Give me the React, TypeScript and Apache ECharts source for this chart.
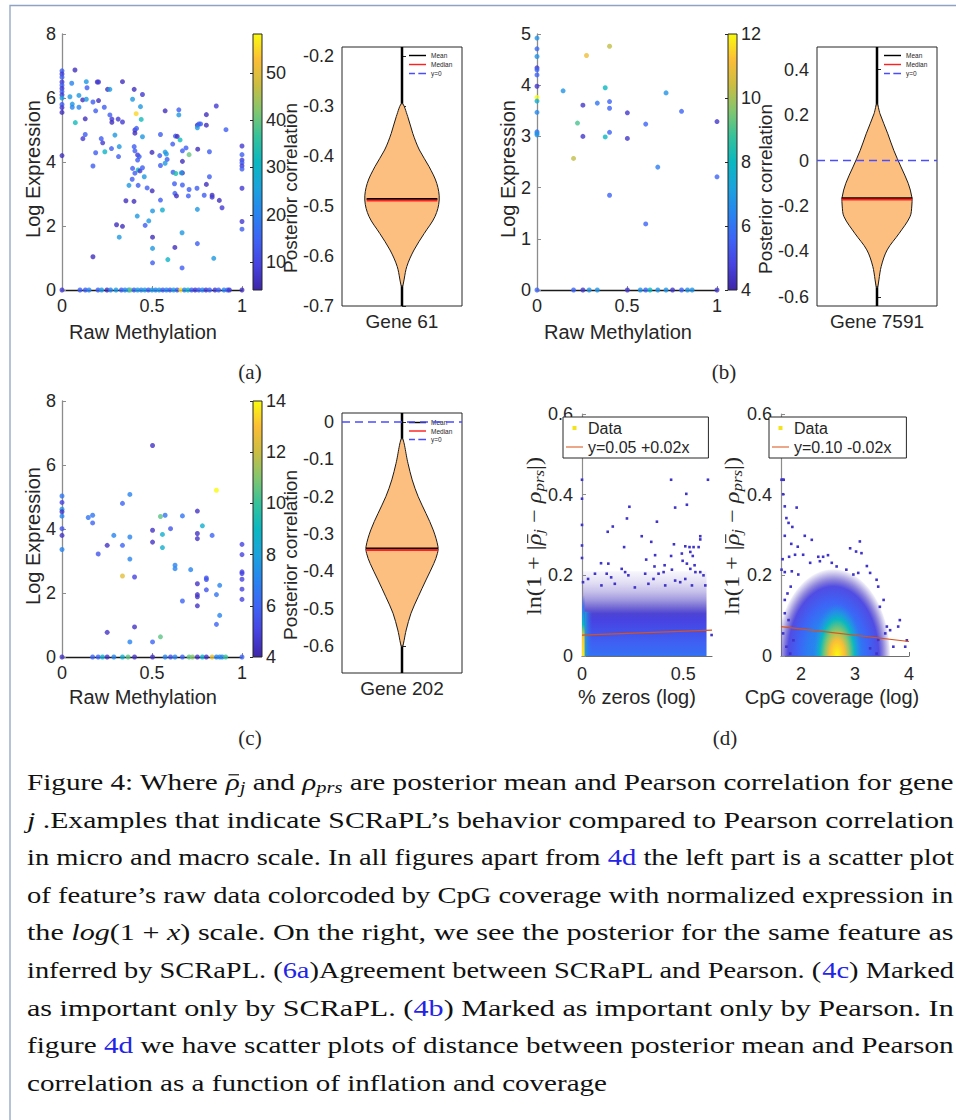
import React, { useEffect, useRef } from 'react';
import * as echarts from 'echarts';

const PARULA = ['#3e26a8', '#4743e2', '#3d64f6', '#2785f0', '#1aa3dc', '#0ab8c0', '#36c29a', '#83c66e', '#cbbd42', '#fbbe36', '#f9fb0e'];
const SANS = 'Liberation Sans';
const SERIF = 'Liberation Serif';
const INK = '#262626';

// ---------- Panel (a): Gene 61 ----------
const scatterA: number[][] = [
  [0, 6.85, 14], [0, 6.75, 8], [0, 6.65, 14], [0, 6.5, 8], [0, 6.4, 14], [0, 6.3, 8], [0, 6.2, 14], [0, 6.1, 8], [0, 6.0, 24], [0, 5.8, 14], [0, 5.7, 8], [0, 5.55, 6], [0, 4.2, 6],
  [0.072, 6.875, 6], [0.054, 6.46, 20], [0.044, 6.04, 24], [0.057, 5.81, 24], [0.057, 5.71, 20], [0.074, 5.23, 32], [0.094, 6.08, 24], [0.094, 5.71, 20], [0.115, 5.94, 6], [0.135, 6.51, 24], [0.139, 6.32, 14], [0.135, 5.96, 24], [0.129, 5.35, 6], [0.116, 4.73, 8], [0.129, 4.86, 14], [0.172, 5.875, 14], [0.187, 5.6, 14], [0.196, 6.5, 6], [0.203, 6.5, 8], [0.203, 5.92, 6], [0.235, 5.71, 14], [0.218, 4.73, 14], [0.226, 4.6, 8], [0.187, 4.29, 14], [0.172, 3.875, 14], [0.238, 4.32, 30], [0.253, 6.27, 6], [0.266, 6.27, 24], [0.266, 5.47, 14], [0.277, 5.34, 8], [0.277, 5.24, 6], [0.312, 5.34, 8], [0.336, 6.51, 6], [0.336, 5.25, 8], [0.294, 4.84, 24], [0.275, 4.42, 14], [0.318, 4.48, 24], [0.314, 4.17, 14], [0.392, 5.96, 24], [0.401, 6.27, 6], [0.447, 6.11, 8], [0.412, 5.51, 55], [0.44, 5.33, 32], [0.436, 5.73, 24], [0.405, 5.0, 8], [0.414, 5.05, 14], [0.405, 4.9, 6], [0.447, 4.79, 24], [0.401, 4.48, 14], [0.405, 4.35, 14], [0.42, 4.22, 8], [0.429, 4.17, 14], [0.42, 4.06, 14], [0.392, 3.8, 14], [0.423, 3.75, 32], [0.433, 3.72, 8], [0.405, 3.65, 14], [0.447, 3.82, 14], [0.457, 3.54, 24], [0.372, 3.27, 24], [0.39, 3.46, 14], [0.423, 3.27, 14], [0.473, 3.19, 14], [0.501, 3.1, 6], [0.355, 2.79, 6], [0.4, 2.77, 6], [0.303, 2.04, 6], [0.336, 1.99, 6], [0.318, 1.65, 24], [0.418, 2.31, 24], [0.462, 2.02, 14], [0.482, 2.16, 24], [0.503, 2.47, 24], [0.503, 1.65, 6], [0.503, 1.3, 24], [0.503, 0.85, 14], [0.172, 1.04, 6], [0.5, 4.3, 6], [0.543, 4.2, 14], [0.547, 3.89, 14], [0.547, 4.86, 14], [0.573, 5.6, 6], [0.573, 4.31, 24], [0.58, 4.25, 24], [0.584, 4.08, 14], [0.573, 3.96, 24], [0.547, 2.81, 14], [0.558, 2.5, 28], [0.615, 4.56, 14], [0.617, 3.68, 14], [0.632, 3.64, 34], [0.625, 3.32, 14], [0.627, 3.02, 14], [0.636, 2.94, 6], [0.63, 4.81, 14], [0.64, 4.8, 6], [0.649, 5.63, 14], [0.649, 5.47, 24], [0.656, 4.69, 32], [0.669, 4.35, 14], [0.669, 4.02, 6], [0.669, 3.66, 6], [0.669, 3.28, 14], [0.663, 3.66, 24], [0.689, 4.44, 14], [0.706, 4.23, 40], [0.706, 3.14, 14], [0.702, 2.94, 14], [0.754, 4.4, 6], [0.752, 5.15, 6], [0.761, 5.19, 14], [0.77, 5.19, 14], [0.752, 5.07, 24], [0.802, 5.48, 6], [0.802, 5.15, 6], [0.857, 5.75, 8], [0.911, 5.01, 14], [0.819, 4.32, 14], [0.819, 3.54, 14], [0.802, 3.3, 6], [0.75, 3.18, 14], [0.79, 2.96, 14], [0.834, 2.96, 6], [0.834, 2.9, 8], [0.874, 2.8, 6], [0.889, 2.57, 8], [0.752, 2.52, 24], [0.627, 1.33, 6], [0.667, 1.79, 24], [0.667, 0.69, 14], [0.588, 0.95, 30], [0.752, 1.45, 14], [0.843, 0.99, 24],
  [1, 4.5, 8], [1, 4.23, 14], [1, 4.06, 8], [1, 3.98, 14], [1, 3.88, 8], [1, 3.78, 14], [1, 3.18, 8], [1, 2.14, 8], [1, 1.9, 14],
  [0, 0, 8], [0.1, 0, 14], [0.13, 0, 14], [0.15, 0, 20], [0.2, 0, 14], [0.22, 0, 24], [0.25, 0, 6], [0.27, 0, 20], [0.3, 0, 24], [0.33, 0, 14], [0.35, 0, 20], [0.37, 0, 24], [0.38, 0, 40], [0.4, 0, 14], [0.42, 0, 24], [0.44, 0, 20], [0.46, 0, 24], [0.48, 0, 14], [0.5, 0, 24], [0.52, 0, 20], [0.54, 0, 24], [0.56, 0, 14], [0.58, 0, 20], [0.6, 0, 14], [0.62, 0, 24], [0.64, 0, 14], [0.66, 0, 55], [0.68, 0, 20], [0.7, 0, 30], [0.72, 0, 14], [0.74, 0, 8], [0.76, 0, 14], [0.78, 0, 20], [0.8, 0, 8], [0.82, 0, 14], [0.85, 0, 8], [0.87, 0, 14], [0.9, 0, 20], [0.92, 0, 14], [0.93, 0, 8], [1, 0, 6],
];
const cbarARange = [4.1, 58.2];
const cbarATicks = [10, 20, 30, 40, 50];
const violinAY = [-0.295, -0.321, -0.355, -0.388, -0.421, -0.455, -0.488, -0.521, -0.555, -0.588, -0.621, -0.661];
const violinAW = [0, 0.095, 0.18, 0.29, 0.45, 0.58, 0.62, 0.55, 0.37, 0.2, 0.08, 0];
const violinARange = [-0.7, -0.182];
const violinATicks = [-0.7, -0.6, -0.5, -0.4, -0.3, -0.2];
const meanLineA = [[-0.59, -0.486], [0.59, -0.486]];
const medianLineA = [[-0.59, -0.489], [0.59, -0.489]];
const geneA = 'Gene 61';

// ---------- Panel (b): Gene 7591 ----------
const scatterB: number[][] = [
  [0, 4.92, 6.8], [0, 4.71, 5.8], [0, 4.56, 6.8], [0, 4.34, 4.5], [0, 4.3, 5.6], [0, 4.2, 5.6], [0, 3.98, 4.5], [0, 3.76, 12], [0, 3.69, 7.5], [0, 3.47, 6.5], [0, 3.09, 5.8], [0, 3.06, 6.8], [0, 3.03, 6.8], [0, 0, 5.6],
  [0.145, 3.89, 6.8], [0.275, 4.58, 11], [0.403, 4.76, 10.3], [0.225, 3.26, 9], [0.203, 2.57, 10.3], [0.255, 3.61, 4.5], [0.255, 3.0, 4.5], [0.335, 3.65, 6], [0.379, 3.95, 8], [0.379, 2.99, 8], [0.403, 3.68, 5.6], [0.403, 3.55, 5.6], [0.403, 3.08, 5.6], [0.403, 1.85, 5.6], [0.502, 3.46, 4.5], [0.502, 2.96, 4.5], [0.604, 3.24, 5.6], [0.604, 1.29, 5.6], [0.671, 2.4, 6.2], [0.717, 3.85, 6.8], [0.803, 3.49, 5.6], [1, 3.29, 4.5], [1, 2.21, 5.6],
  [0.203, 0, 5.6], [0.255, 0, 4.5], [0.29, 0, 6.8], [0.335, 0, 6.8], [0.502, 0, 4.5], [0.574, 0, 6.8], [0.604, 0, 5.6], [0.628, 0, 8], [0.671, 0, 6.8], [0.717, 0, 6.8], [0.753, 0, 4.5], [0.803, 0, 5.6], [0.836, 0, 6.8], [0.862, 0, 6.8], [1, 0, 4.5],
];
const cbarBRange = [4, 12];
const cbarBTicks = [4, 6, 8, 10, 12];
const violinBY = [0.25, 0.206, 0.118, 0.045, -0.028, -0.1, -0.16, -0.2, -0.247, -0.32, -0.393, -0.466, -0.56];
const violinBW = [0, 0.05, 0.18, 0.28, 0.4, 0.52, 0.58, 0.58, 0.55, 0.37, 0.17, 0.07, 0];
const violinBRange = [-0.64, 0.5];
const violinBTicks = [-0.6, -0.4, -0.2, 0, 0.2, 0.4];
const meanLineB = [[-0.59, -0.166], [0.59, -0.166]];
const medianLineB = [[-0.59, -0.171], [0.59, -0.171]];
const geneB = 'Gene 7591';

// ---------- Panel (c): Gene 202 ----------
const scatterC: number[][] = [
  [0, 5.03, 6.5], [0, 4.83, 5], [0, 4.62, 7.5], [0, 4.54, 4.5], [0, 4.4, 7], [0, 4.01, 5.5], [0, 3.8, 4.5], [0, 3.36, 7], [0, 0, 4.5],
  [0.146, 4.36, 6.5], [0.17, 4.43, 6.5], [0.17, 4.19, 6], [0.201, 3.22, 5.5], [0.251, 3.49, 4.5], [0.251, 0.77, 4.5], [0.288, 3.8, 7], [0.336, 4.8, 6], [0.336, 3.49, 6], [0.336, 2.53, 12.5], [0.377, 5.08, 7], [0.377, 3.75, 7], [0.377, 3.06, 7], [0.377, 0.47, 7], [0.403, 2.5, 5], [0.403, 0.94, 4.5], [0.503, 6.61, 4.5], [0.503, 3.96, 4.5], [0.503, 3.59, 4.5], [0.503, 0.47, 6], [0.547, 4.39, 10.5], [0.558, 3.83, 8.5], [0.558, 3.42, 8.5], [0.547, 0.63, 10.5], [0.573, 4.43, 6.5], [0.603, 4.01, 5.5], [0.628, 2.87, 7], [0.628, 2.76, 7], [0.669, 4.41, 6.5], [0.669, 1.75, 6], [0.715, 2.73, 7], [0.752, 4.56, 4.5], [0.752, 3.86, 4.5], [0.752, 3.7, 4.5], [0.752, 2.29, 4.5], [0.752, 1.95, 4.5], [0.752, 1.88, 4.5], [0.752, 1.6, 4.5], [0.78, 4.1, 8.5], [0.802, 2.47, 5.5], [0.802, 2.42, 5.5], [0.802, 2.1, 5.5], [0.834, 3.8, 6], [0.858, 5.21, 14], [0.858, 1.95, 6.5], [0.876, 2.24, 7], [0.876, 1.3, 7], [0.858, 1.02, 6],
  [1, 3.52, 5], [1, 3.2, 5], [1, 2.66, 5], [1, 2.61, 5], [1, 2.43, 5], [1, 2.12, 5], [1, 1.8, 5],
  [0.17, 0, 6], [0.201, 0, 6], [0.225, 0, 8.5], [0.251, 0, 4.5], [0.288, 0, 7], [0.336, 0, 8.5], [0.367, 0, 10.5], [0.403, 0, 4.5], [0.503, 0, 4.5], [0.573, 0, 7], [0.603, 0, 5.5], [0.628, 0, 7], [0.669, 0, 6], [0.706, 0, 10.5], [0.725, 0, 11], [0.752, 0, 4.5], [0.78, 0, 8.5], [0.802, 0, 4.5], [0.834, 0, 12.5], [0.858, 0, 7], [0.876, 0, 7], [0.89, 0, 7], [0.909, 0, 10], [1, 0, 6],
];
const cbarCRange = [4, 14];
const cbarCTicks = [4, 6, 8, 10, 12, 14];
const violinCY = [-0.044, -0.111, -0.155, -0.2, -0.245, -0.289, -0.334, -0.352, -0.379, -0.423, -0.468, -0.512, -0.557, -0.602];
const violinCW = [0, 0.1, 0.17, 0.27, 0.4, 0.52, 0.6, 0.59, 0.53, 0.4, 0.27, 0.15, 0.07, 0];
const violinCRange = [-0.672, 0.024];
const violinCTicks = [-0.6, -0.5, -0.4, -0.3, -0.2, -0.1, 0];
const meanLineC = [[-0.6, -0.339], [0.6, -0.339]];
const medianLineC = [[-0.6, -0.343], [0.6, -0.343]];
const geneC = 'Gene 202';

// ---------- Panel (d): density scatter plots ----------
// density regions: box [x0, x1, y0, y1]; profile rows [position 0..1 along gradient, density level 0..1, coverage 0..1]
const zerosMainBox = [0.004, 0.615, 0, 0.21];
const zerosMainProfile = [[0, 0.24, 1], [0.15, 0.19, 1], [0.3, 0.14, 1], [0.42, 0.1, 1], [0.5, 0.07, 0.95], [0.57, 0.05, 0.75], [0.66, 0.04, 0.5], [0.76, 0.03, 0.3], [0.87, 0.02, 0.15], [1, 0.02, 0.04]];
const zerosStripBox = [0, 0.013, 0, 0.15];
const zerosStripProfile = [[0, 0.97, 1], [0.3, 0.92, 1], [0.4, 0.72, 1], [0.52, 0.5, 1], [0.66, 0.36, 1], [0.8, 0.26, 0.8], [1, 0.2, 0]];
const zerosEdgeBox = [0.013, 0.05, 0, 0.11];
const zerosEdgeProfile = [[0, 0.48, 0.9], [0.35, 0.34, 0.6], [1, 0.25, 0]];
const zerosOutliers: number[][] = [
  [0.44, 0.437], [0.622, 0.437], [0.515, 0.402], [0, 0.437], [0, 0.39], [0, 0.325], [0, 0.274], [0, 0.243],
  [0.234, 0.37], [0.222, 0.341], [0.46, 0.368], [0.518, 0.375], [0.37, 0.333], [0.152, 0.321], [0.127, 0.308], [0.295, 0.297], [0.584, 0.297], [0.584, 0.289], [0.342, 0.283], [0.208, 0.27], [0.454, 0.277], [0.51, 0.272], [0.531, 0.27], [0.551, 0.27], [0.576, 0.27], [0.361, 0.25], [0.44, 0.248], [0.493, 0.254], [0.535, 0.258], [0.547, 0.248], [0.497, 0.236], [0.518, 0.229], [0.556, 0.225], [0.094, 0.23], [0.13, 0.229], [0.317, 0.239], [0.358, 0.222], [0.408, 0.225], [0.196, 0.216], [0.213, 0.208], [0.229, 0.2], [0.122, 0.204], [0.144, 0.195], [0.064, 0.204], [0.312, 0.204], [0.353, 0.191], [0.378, 0.204], [0.403, 0.208], [0.444, 0.214], [0.46, 0.187], [0.485, 0.183], [0.51, 0.191], [0.535, 0.216], [0.56, 0.208], [0.584, 0.208], [0.6, 0.2], [0.03, 0.191], [0.005, 0.183], [0.096, 0.175], [0.162, 0.179], [0.261, 0.17], [0.328, 0.179], [0.411, 0.175], [0.543, 0.175], [0.609, 0.175], [0.64, 0.052],
];
const zerosFit = [[0, 0.052], [0.642, 0.064]];
const zerosFitName = 'y=0.05 +0.02x';
// elliptical density blobs: [cx, cy, rx, ry]; radial profile rows [radius 0..1, density level, coverage]
const cpgOuterBlob = [2.6, 0, 1.05, 0.215];
const cpgOuterProfile = [[0, 0.36, 1], [0.45, 0.28, 1], [0.62, 0.2, 1], [0.8, 0.1, 0.95], [0.88, 0.05, 0.6], [1, 0.02, 0.05]];
const cpgInnerBlob = [2.67, 0, 0.46, 0.13];
const cpgInnerProfile = [[0, 1, 1], [0.3, 0.9, 1], [0.5, 0.7, 1], [0.7, 0.5, 1], [0.85, 0.38, 0.6], [1, 0.3, 0]];
const cpgOutliers: number[][] = [
  [1.64, 0.437], [1.66, 0.437], [1.68, 0.437], [1.67, 0.401], [1.7, 0.371], [1.92, 0.368], [1.73, 0.342], [1.77, 0.33], [1.84, 0.32], [1.7, 0.298], [2.07, 0.298], [2.2, 0.288], [1.82, 0.278], [1.94, 0.271], [1.89, 0.251], [1.78, 0.246], [2.04, 0.251], [2.32, 0.246], [2.41, 0.246], [2.5, 0.25], [2.91, 0.267], [3.09, 0.284], [3.02, 0.259], [3.12, 0.255], [2.35, 0.235], [2.17, 0.231], [1.66, 0.24], [1.64, 0.214], [1.7, 0.208], [1.83, 0.21], [1.95, 0.202], [2.57, 0.231], [2.66, 0.222], [2.84, 0.214], [2.97, 0.202], [3.22, 0.223], [3.28, 0.206], [3.06, 0.206], [3.4, 0.189], [3.43, 0.172], [3.53, 0.139], [3.46, 0.122], [3.83, 0.089], [3.8, 0.073], [3.65, 0.064], [3.56, 0.056], [3.71, 0.023], [3.93, 0.023], [3.96, 0.039], [3.59, 0.073], [3.43, 0.04], [3.28, 0.019], [3.4, 0.006], [1.7, 0.106], [1.77, 0.089], [1.67, 0.056], [1.73, 0.023], [1.8, 0.006], [1.86, 0.039], [1.7, 0.139], [1.75, 0.155], [1.81, 0.172],
];
const cpgFit = [[1.63, 0.073], [4.0, 0.036]];
const cpgFitName = 'y=0.10 -0.02x';
const zerosXRange = [0, 0.642];
const zerosXTicks = [0, 0.5];
const cpgXRange = [1.63, 4];
const cpgXTicks = [2, 3, 4];
const densYRange = [0, 0.6];

// ---------- Caption (n normal, i italic, b link, s subscript, bar overline on previous) ----------
const captionLines: [string, string][][] = [
  [['Figure 4: Where ', 'n'], ['ρ', 'i'], ['', 'bar'], ['j', 's'], [' and ', 'n'], ['ρ', 'i'], ['prs', 's'], [' are posterior mean and Pearson correlation for gene', 'n']],
  [['j', 'i'], [' .Examples that indicate SCRaPL’s behavior compared to Pearson correlation', 'n']],
  [['in micro and macro scale. In all figures apart from ', 'n'], ['4d', 'b'], [' the left part is a scatter plot', 'n']],
  [['of feature’s raw data colorcoded by CpG coverage with normalized expression in', 'n']],
  [['the ', 'n'], ['log', 'i'], ['(1 + ', 'n'], ['x', 'i'], [') scale. On the right, we see the posterior for the same feature as', 'n']],
  [['inferred by SCRaPL. (', 'n'], ['6a', 'b'], [')Agreement between SCRaPL and Pearson. (', 'n'], ['4c', 'b'], [') Marked', 'n']],
  [['as important only by SCRaPL. (', 'n'], ['4b', 'b'], [') Marked as important only by Pearson. In', 'n']],
  [['figure ', 'n'], ['4d', 'b'], [' we have scatter plots of distance between posterior mean and Pearson', 'n']],
  [['correlation as a function of inflation and coverage', 'n']],
];
const captionWidths = [927, 927, 927, 927, 927, 927, 927, 927, 580];
const lnLabel: [string, string][] = [['ln(1 + |', 'n'], ['ρ', 'i'], ['', 'bar'], ['j', 's'], [' − ', 'n'], ['ρ', 'i'], ['prs', 's'], ['|)', 'n']];

const fmt = (v: number) => String(Math.round(v * 1000) / 1000);

export default function App() {
  const ref = useRef<HTMLDivElement>(null);
  useEffect(() => {
    document.body.style.margin = '0';
    const chart = echarts.init(ref.current!, undefined, { renderer: 'svg' });
    const ctx = document.createElement('canvas').getContext('2d')!;
    const measure = (t: string, italic: boolean, size: number, fam: string) => {
      ctx.font = `${italic ? 'italic ' : ''}${size}px "${fam}"`;
      return ctx.measureText(t).width;
    };
    const gradStops = PARULA.map((c, i) => ({ offset: i / (PARULA.length - 1), color: c }));
    const profileStops = (prof: number[][]) =>
      prof.map(([o, lv, cov]) => ({ offset: o, color: echarts.color.modifyAlpha(echarts.color.lerp(lv, PARULA) as string, cov) }));

    const buildRun = (segs: [string, string][], size: number, fam: string, fill: string) => {
      let cx = 0;
      let prevX = 0, prevW = 0;
      const children: any[] = [];
      segs.forEach(([t, f]) => {
        if (f === 'bar') {
          children.push({ type: 'line', silent: true, shape: { x1: prevX + prevW * 0.2, y1: -size * 0.3, x2: prevX + prevW * 0.95, y2: -size * 0.3 }, style: { stroke: fill, lineWidth: Math.max(1, size * 0.05) } });
          return;
        }
        const sub = f === 's';
        const it = f === 'i' || sub;
        const fs = sub ? size * 0.7 : size;
        children.push({ type: 'text', x: cx, y: sub ? size * 0.22 : 0, silent: true,
          style: { text: t, fontSize: fs, fontFamily: fam, fontStyle: it ? 'italic' : 'normal', fill: f === 'b' ? '#2424e6' : fill,
            textVerticalAlign: 'middle', verticalAlign: 'middle' } });
        const w = measure(t, it, fs, fam);
        prevX = cx; prevW = w;
        cx += w;
      });
      return { children, width: cx };
    };

    const panels = [
      { scatter: scatterA, yMax: 8, yInt: 2, cbar: cbarARange, cbarTicks: cbarATicks, vY: violinAY, vW: violinAW, vRange: violinARange, vTicks: violinATicks, mean: meanLineA, median: medianLineA, gene: geneA,
        lay: { s: { left: 62, top: 34, width: 180, height: 256 }, c: { left: 253, top: 34, width: 9, height: 256 }, v: { left: 342, top: 47, width: 120, height: 259 }, lg: { left: 409, top: 52, gap: 2 } } },
      { scatter: scatterB, yMax: 5, yInt: 1, cbar: cbarBRange, cbarTicks: cbarBTicks, vY: violinBY, vW: violinBW, vRange: violinBRange, vTicks: violinBTicks, mean: meanLineB, median: medianLineB, gene: geneB,
        lay: { s: { left: 537, top: 34, width: 180, height: 256 }, c: { left: 728, top: 34, width: 9, height: 256 }, v: { left: 817, top: 47, width: 120, height: 259 }, lg: { left: 884, top: 52, gap: 2 } } },
      { scatter: scatterC, yMax: 8, yInt: 2, cbar: cbarCRange, cbarTicks: cbarCTicks, vY: violinCY, vW: violinCW, vRange: violinCRange, vTicks: violinCTicks, mean: meanLineC, median: medianLineC, gene: geneC,
        lay: { s: { left: 62, top: 401, width: 180, height: 256 }, c: { left: 253, top: 401, width: 9, height: 256 }, v: { left: 342, top: 413, width: 120, height: 260 }, lg: { left: 409, top: 419, gap: 1.5 } } },
    ];

    const grid: any[] = [];
    const xAxis: any[] = [];
    const yAxis: any[] = [];
    const series: any[] = [];
    const visualMap: any[] = [];
    const legend: any[] = [];
    const tickLabel = { fontSize: 18, color: INK, fontFamily: SANS };
    const LINE_ICON = 'path://M0,0h20v1.7h-20z';
    const DASH_ICON = 'path://M0,0h7v1.7h-7z M11,0h9v1.7h-9z';

    panels.forEach((p) => {
      const gs = grid.length;
      grid.push({ ...p.lay.s, outerBoundsMode: 'none' });
      xAxis.push({ type: 'value', gridIndex: gs, min: 0, max: 1, interval: 0.5,
        axisLine: { show: true, onZero: false, lineStyle: { color: '#1a1a1a', width: 1.3 } },
        axisTick: { show: true, inside: true, length: 4, lineStyle: { color: '#8c8c8c' } },
        axisLabel: { ...tickLabel, margin: 7, formatter: fmt }, splitLine: { show: false } });
      yAxis.push({ type: 'value', gridIndex: gs, min: 0, max: p.yMax, interval: p.yInt,
        axisLine: { show: true, onZero: false, lineStyle: { color: '#8c8c8c', width: 1.3 } },
        axisTick: { show: true, inside: true, length: 4, lineStyle: { color: '#8c8c8c' } },
        axisLabel: { ...tickLabel, margin: 6, formatter: fmt }, splitLine: { show: false } });
      const sIdx = series.length;
      series.push({ type: 'scatter', xAxisIndex: gs, yAxisIndex: gs, data: p.scatter, symbolSize: 5, clip: false, silent: true });
      visualMap.push({ type: 'continuous', show: false, seriesIndex: sIdx, dimension: 2, min: p.cbar[0], max: p.cbar[1], inRange: { color: PARULA } });

      const gc = grid.length;
      grid.push({ ...p.lay.c, outerBoundsMode: 'none' });
      xAxis.push({ type: 'value', gridIndex: gc, min: 0, max: 1, show: false });
      yAxis.push({ type: 'value', gridIndex: gc, position: 'right', min: p.cbar[0], max: p.cbar[1],
        axisLine: { show: false },
        axisTick: { show: true, inside: true, length: 3, customValues: p.cbarTicks, lineStyle: { color: INK } },
        axisLabel: { ...tickLabel, margin: 4, customValues: p.cbarTicks, formatter: fmt }, splitLine: { show: false } });
      series.push({ type: 'custom', xAxisIndex: gc, yAxisIndex: gc, silent: true, data: [[0, p.cbar[0], 1, p.cbar[1]]],
        renderItem: (_params: any, api: any) => {
          const a = api.coord([api.value(0), api.value(3)]);
          const b = api.coord([api.value(2), api.value(1)]);
          return { type: 'rect', shape: { x: a[0], y: a[1], width: b[0] - a[0], height: b[1] - a[1] },
            style: { fill: new echarts.graphic.LinearGradient(0, 1, 0, 0, gradStops), stroke: INK, lineWidth: 1 } };
        } });

      const gv = grid.length;
      grid.push({ ...p.lay.v, show: true, borderColor: INK, borderWidth: 1, backgroundColor: 'transparent', outerBoundsMode: 'none' });
      xAxis.push({ type: 'value', gridIndex: gv, min: -1, max: 1, axisLine: { show: false }, axisTick: { show: false }, splitLine: { show: false },
        axisLabel: { fontSize: 19, color: INK, fontFamily: SANS, margin: 6, customValues: [0], formatter: () => p.gene } });
      yAxis.push({ type: 'value', gridIndex: gv, min: p.vRange[0], max: p.vRange[1], axisLine: { show: false },
        axisTick: { show: true, inside: true, length: 4, customValues: p.vTicks, lineStyle: { color: INK } },
        axisLabel: { ...tickLabel, margin: 8, customValues: p.vTicks, formatter: fmt }, splitLine: { show: false } });
      series.push({ type: 'line', z: 1, xAxisIndex: gv, yAxisIndex: gv, symbol: 'none', silent: true,
        data: [[0, p.vRange[0]], [0, p.vRange[1]]], lineStyle: { color: '#000', width: 2.5 } });
      const vY = p.vY, vW = p.vW;
      series.push({ type: 'custom', z: 3, xAxisIndex: gv, yAxisIndex: gv, silent: true, data: [[0, vY[0]]],
        renderItem: (_params: any, api: any) => {
          const pts: number[][] = [];
          for (let i = 0; i < vY.length; i++) pts.push(api.coord([vW[i], vY[i]]));
          for (let i = vY.length - 2; i >= 1; i--) pts.push(api.coord([-vW[i], vY[i]]));
          return { type: 'polygon', shape: { points: pts, smooth: 0.35 }, style: { fill: '#fdbf7f', stroke: '#1a1a1a', lineWidth: 1 } };
        } });
      series.push({ type: 'line', z: 4, name: 'Mean', xAxisIndex: gv, yAxisIndex: gv, symbol: 'none', silent: true, data: p.mean, lineStyle: { color: '#000', width: 2 }, itemStyle: { color: '#000' } });
      series.push({ type: 'line', z: 4, name: 'Median', xAxisIndex: gv, yAxisIndex: gv, symbol: 'none', silent: true, data: p.median, lineStyle: { color: '#ff2020', width: 2 }, itemStyle: { color: '#ff2020' } });
      series.push({ type: 'line', z: 5, name: 'y=0', xAxisIndex: gv, yAxisIndex: gv, symbol: 'none', silent: true, data: [[-1, 0], [1, 0]], lineStyle: { color: '#4b4bff', width: 1.5, type: [8, 5] }, itemStyle: { color: '#4b4bff' } });
      legend.push({ left: p.lay.lg.left, top: p.lay.lg.top, orient: 'vertical', padding: 0, itemWidth: 17, itemHeight: 8, itemGap: p.lay.lg.gap,
        selectedMode: false, textStyle: { fontSize: 6.5, color: INK, fontFamily: SANS },
        data: [
          { name: 'Mean', icon: LINE_ICON, itemStyle: { color: '#000' } },
          { name: 'Median', icon: LINE_ICON, itemStyle: { color: '#ff2020' } },
          { name: 'y=0', icon: DASH_ICON, itemStyle: { color: '#4b4bff' } },
        ] });
    });

    const dens = [
      { regions: [
          { box: zerosMainBox, prof: zerosMainProfile, dir: 'v' },
          { box: zerosEdgeBox, prof: zerosEdgeProfile, dir: 'h' },
          { box: zerosStripBox, prof: zerosStripProfile, dir: 'v' },
        ], blobs: [] as any[], outliers: zerosOutliers, fit: zerosFit, fitName: zerosFitName, xr: zerosXRange, xt: zerosXTicks,
        lay: { left: 582, top: 414, width: 130, height: 242 }, lg: { left: 563, top: 417, pad: [3, 19, 3, 3] } },
      { regions: [] as any[], blobs: [
          { box: cpgOuterBlob, prof: cpgOuterProfile },
          { box: cpgInnerBlob, prof: cpgInnerProfile },
        ], outliers: cpgOutliers, fit: cpgFit, fitName: cpgFitName, xr: cpgXRange, xt: cpgXTicks,
        lay: { left: 781, top: 414, width: 128, height: 242 }, lg: { left: 769, top: 417, pad: [3, 15, 3, 3] } },
    ];
    dens.forEach((d) => {
      const g = grid.length;
      grid.push({ ...d.lay, outerBoundsMode: 'none' });
      xAxis.push({ type: 'value', gridIndex: g, min: d.xr[0], max: d.xr[1],
        axisLine: { show: true, onZero: false, lineStyle: { color: '#6e6e6e', width: 1.2 } },
        axisTick: { show: true, inside: true, length: 4, customValues: d.xt, lineStyle: { color: '#6e6e6e' } },
        axisLabel: { ...tickLabel, margin: 9, customValues: d.xt, formatter: fmt }, splitLine: { show: false } });
      yAxis.push({ type: 'value', gridIndex: g, min: densYRange[0], max: densYRange[1], interval: 0.2,
        axisLine: { show: true, onZero: false, lineStyle: { color: '#8c8c8c', width: 1.2 } },
        axisTick: { show: true, inside: true, length: 4, lineStyle: { color: '#8c8c8c' } },
        axisLabel: { ...tickLabel, margin: 9, formatter: fmt }, splitLine: { show: false } });
      if (d.regions.length) {
        const regs = d.regions;
        series.push({ type: 'custom', name: 'Data', xAxisIndex: g, yAxisIndex: g, silent: true, clip: true,
          data: regs.map((r: any) => r.box),
          renderItem: (params: any, api: any) => {
            const r = regs[params.dataIndex];
            const a = api.coord([api.value(0), api.value(3)]);
            const b = api.coord([api.value(1), api.value(2)]);
            const fill = r.dir === 'v'
              ? new echarts.graphic.LinearGradient(0, 1, 0, 0, profileStops(r.prof))
              : new echarts.graphic.LinearGradient(0, 0, 1, 0, profileStops(r.prof));
            return { type: 'rect', shape: { x: a[0], y: a[1], width: b[0] - a[0], height: b[1] - a[1] }, style: { fill } };
          } });
      }
      if (d.blobs.length) {
        const blobs = d.blobs;
        series.push({ type: 'custom', name: 'Data', xAxisIndex: g, yAxisIndex: g, silent: true, clip: true,
          data: blobs.map((b: any) => b.box),
          renderItem: (params: any, api: any) => {
            const bl = blobs[params.dataIndex];
            const c = api.coord([api.value(0), api.value(1)]);
            const s = api.size([api.value(2), api.value(3)]);
            return { type: 'ellipse', shape: { cx: c[0], cy: c[1], rx: s[0], ry: s[1] },
              style: { fill: new echarts.graphic.RadialGradient(0.5, 0.5, 0.5, profileStops(bl.prof)) } };
          } });
      }
      series.push({ type: 'scatter', name: 'Data', xAxisIndex: g, yAxisIndex: g, silent: true, clip: false, symbol: 'rect', symbolSize: 2.6,
        data: d.outliers, itemStyle: { color: '#3f33c8', opacity: 1 } });
      series.push({ type: 'line', name: d.fitName, xAxisIndex: g, yAxisIndex: g, symbol: 'none', silent: true, data: d.fit,
        lineStyle: { color: '#d95319', width: 1.2 }, itemStyle: { color: '#d95319' } });
      legend.push({ left: d.lg.left, top: d.lg.top, orient: 'vertical', padding: d.lg.pad, itemWidth: 17, itemHeight: 4, itemGap: 3,
        selectedMode: false, borderColor: INK, borderWidth: 1, backgroundColor: '#fff',
        textStyle: { fontSize: 16, color: INK, fontFamily: SANS },
        data: [{ name: 'Data', icon: 'path://M0,0h10v10h-10z', itemStyle: { color: '#f2e31c' } },
          { name: d.fitName, icon: 'path://M0,0h20v1.2h-20z', itemStyle: { color: '#d95319' } }] });
    });

    const txt = (text: string, x: number, y: number, size: number, fam: string, rot = 0): any => ({
      type: 'text', x, y, rotation: rot, silent: true,
      style: { text, fontSize: size, fontFamily: fam, fill: INK, textAlign: 'center', textVerticalAlign: 'middle', align: 'center', verticalAlign: 'middle' },
    });
    const R = Math.PI / 2;
    const mathLabel = (cx: number, cy: number) => {
      const run = buildRun(lnLabel, 21, SERIF, INK);
      run.children.forEach((c: any) => { if (c.type === 'text') c.x -= run.width / 2; else { c.shape.x1 -= run.width / 2; c.shape.x2 -= run.width / 2; } });
      return { type: 'group', x: cx, y: cy, rotation: R, scaleX: 158 / run.width, silent: true, children: run.children };
    };
    const graphic: any[] = [
      { type: 'rect', silent: true, shape: { x: 10, y: 5.5, width: 970, height: 1140 }, style: { fill: 'none', stroke: '#8ea3c2', lineWidth: 1.3 } },
      txt('Log Expression', 33, 169, 20, SANS, R), txt('Raw Methylation', 143, 332, 20, SANS), txt('Posterior correlation', 290, 188, 19, SANS, R),
      txt('Log Expression', 508, 169, 20, SANS, R), txt('Raw Methylation', 618, 332, 20, SANS), txt('Posterior correlation', 765, 189, 19, SANS, R),
      txt('Log Expression', 33, 536, 20, SANS, R), txt('Raw Methylation', 143, 697, 20, SANS), txt('Posterior correlation', 290, 555, 19, SANS, R),
      mathLabel(534, 536), mathLabel(732, 536),
      txt('% zeros (log)', 637, 697, 20, SANS), txt('CpG coverage (log)', 832, 697, 20, SANS),
      txt('(a)', 250, 372, 21, SERIF), txt('(b)', 724, 372, 21, SERIF), txt('(c)', 250, 738, 21, SERIF), txt('(d)', 725, 738, 21, SERIF),
    ];
    captionLines.forEach((line, li) => {
      const run = buildRun(line, 24, SERIF, '#111');
      graphic.push({ type: 'group', x: 27, y: 782 + li * 37.6, scaleX: captionWidths[li] / run.width, silent: true, children: run.children });
    });

    chart.setOption({ animation: false, backgroundColor: '#fff', grid, xAxis, yAxis, series, visualMap, legend, graphic });
    return () => chart.dispose();
  }, []);
  return <div ref={ref} style={{ position: 'absolute', left: 0, top: 0, width: 956, height: 1120 }} />;
}
